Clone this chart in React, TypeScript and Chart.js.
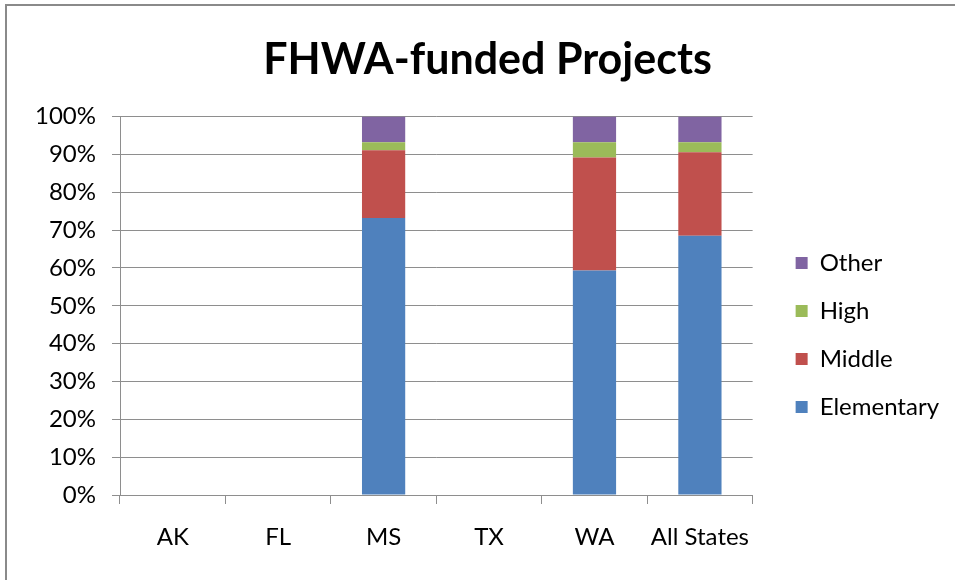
import React, { useEffect, useRef } from 'react';
import { Chart, registerables } from 'chart.js';

Chart.register(...registerables);

const chartTitle = 'FHWA-funded Projects';
const categories = ['AK', 'FL', 'MS', 'TX', 'WA', 'All States'];
const elementary = [null, null, 73.2, null, 59.3, 68.5];
const middle = [null, null, 17.9, null, 29.9, 22.1];
const high = [null, null, 2.1, null, 4.0, 2.6];
const other = [null, null, 6.8, null, 6.8, 6.8];
const seriesNames = ['Elementary', 'Middle', 'High', 'Other'];
const seriesValues = [elementary, middle, high, other];
const seriesColors = ['#4F81BD', '#C0504D', '#9BBB59', '#8064A2'];
const yMin = 0;
const yMax = 100;
const yStep = 10;

const FONT = 'Lato, "Open Sans", sans-serif';
const GRID = '#8e8e8e';

export default function App() {
  const ref = useRef<HTMLCanvasElement | null>(null);

  useEffect(() => {
    if (!ref.current) return;
    const boxShift = {
      id: 'boxShift',
      beforeDraw(chart: any) {
        const lg = chart.legend;
        if (lg) {
          const pad = lg.options.labels.padding;
          const w = lg.right - lg.left;
          const h = lg.bottom - lg.top;
          const newLeft = chart.chartArea.right + 43 - pad;
          const newTop = 227;
          lg.left = newLeft;
          lg.right = newLeft + w;
          lg.top = newTop;
          lg.bottom = newTop + h;
        }
        const tb = chart.titleBlock;
        if (tb) {
          const tw = tb.right - tb.left;
          const center = chart.width / 2 + 10;
          tb.left = center - tw / 2;
          tb.right = center + tw / 2;
        }
      },
    };
    const chart = new Chart(ref.current, {
      type: 'bar',
      data: {
        labels: categories,
        datasets: seriesNames.map((name, i) => ({
          label: name,
          data: seriesValues[i],
          backgroundColor: seriesColors[i],
          borderWidth: 0,
          barPercentage: 0.41,
          categoryPercentage: 1,
        })),
      },
      options: {
        responsive: false,
        animation: false,
        devicePixelRatio: 1,
        layout: { padding: { left: 0, top: 0, right: 25, bottom: 0 } },
        plugins: {
          tooltip: { enabled: false },
          title: {
            display: true,
            text: chartTitle,
            color: '#000',
            font: { family: FONT, size: 43, weight: 'bold' },
            padding: { top: 34, bottom: 31 },
          },
          legend: {
            display: true,
            position: 'right',
            align: 'start',
            reverse: true,
            labels: {
              color: '#000',
              font: { family: FONT, size: 24 },
              boxWidth: 12,
              boxHeight: 12,
              padding: 24,
            },
          },
        },
        scales: {
          x: {
            stacked: true,
            grid: {
              display: true,
              drawOnChartArea: false,
              drawTicks: true,
              tickLength: 9,
              color: GRID,
              offset: true,
            },
            border: { display: true, color: GRID, width: 1 },
            ticks: {
              color: '#000',
              font: { family: FONT, size: 24 },
              padding: 19,
              maxRotation: 0,
              autoSkip: false,
            },
            afterFit: (s: any) => {
              s.height = 85;
            },
          },
          y: {
            stacked: true,
            min: yMin,
            max: yMax,
            grid: {
              color: GRID,
              drawTicks: true,
              tickLength: 8,
            },
            border: { display: true, color: GRID, width: 1 },
            ticks: {
              stepSize: yStep,
              color: '#000',
              font: { family: FONT, size: 24 },
              padding: 16,
              callback: (v: any) => v + '%',
            },
            afterFit: (s: any) => {
              s.width = 120;
            },
          },
        },
      },
      plugins: [boxShift],
    });
    return () => chart.destroy();
  }, []);

  return (
    <div
      style={{
        position: 'absolute',
        left: 0,
        top: 0,
        width: 955,
        height: 580,
        overflow: 'hidden',
        background: '#fff',
      }}
    >
      <div
        style={{
          position: 'absolute',
          left: 5,
          top: 4,
          width: 1000,
          height: 700,
          borderLeft: '2px solid #8a8a8a',
          borderTop: '2px solid #8a8a8a',
        }}
      />
      <canvas
        ref={ref}
        width={955}
        height={580}
        style={{ position: 'absolute', left: 0, top: 0, width: 955, height: 580 }}
      />
    </div>
  );
}
